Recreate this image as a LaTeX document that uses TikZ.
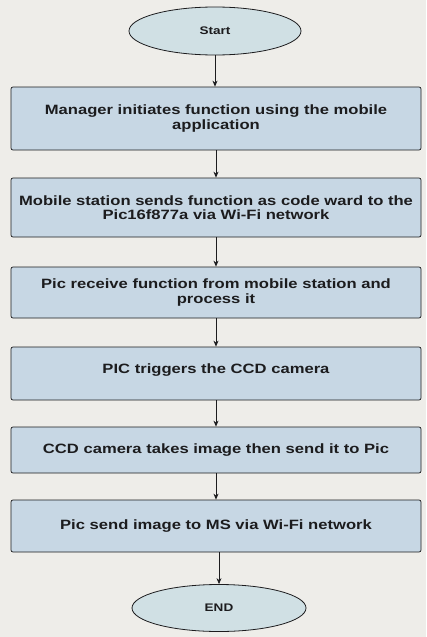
\documentclass[tikz,border=0pt]{standalone}
\usepackage{fontspec}
\setmainfont{Liberation Sans}[FakeStretch=1.23]
\usetikzlibrary{arrows.meta,shapes.geometric}

\definecolor{paper}{RGB}{238,237,233}
\definecolor{boxblue}{RGB}{199,215,228}
\definecolor{termblue}{RGB}{208,224,228}
\definecolor{ink}{RGB}{28,28,30}

\tikzset{
  stepbox/.style={draw=ink, line width=0.7pt, rounded corners=2pt,
    fill=boxblue, minimum width=410pt, align=center, text=ink,
    font=\bfseries\fontsize{13.5}{14.5}\selectfont, inner sep=2pt},
  terminal/.style={ellipse, draw=ink, line width=0.8pt, fill=termblue,
    text=ink, font=\bfseries\fontsize{11}{12}\selectfont, inner sep=0pt},
  flow/.style={draw=ink, line width=0.7pt,
    -{Stealth[length=6pt,width=5pt]}},
}

\begin{document}
\begin{tikzpicture}[x=1pt,y=-1pt]
  \fill[paper] (0,0) rectangle (426,637);
  \useasboundingbox (0,0) rectangle (426,637);

  % terminals
  \node[terminal, minimum width=172pt, minimum height=48pt] (start) at (215,31) {Start};
  \node[terminal, minimum width=174pt, minimum height=47pt] (stop) at (219,608) {END};

  % process steps
  \node[stepbox, minimum height=63pt] (b1) at (216,118.5)
    {Manager initiates function using the mobile\\application};
  \node[stepbox, minimum height=59pt] (b2) at (216,207.5)
    {Mobile station sends function as code ward to the\\Pic16f877a via Wi-Fi network};
  \node[stepbox, minimum height=51pt] (b3) at (216,292.5)
    {Pic receive function from mobile station and\\process it};
  \node[stepbox, minimum height=53pt, text depth=10pt] (b4) at (216,373.5)
    {PIC triggers the CCD camera};
  \node[stepbox, minimum height=46pt] (b5) at (216,450)
    {CCD camera takes image then send it to Pic};
  \node[stepbox, minimum height=52pt] (b6) at (216,526)
    {Pic send image to MS via Wi-Fi network};

  % connectors
  \draw[flow] (start.south) -- (start.south |- b1.north);
  \draw[flow] (b1) -- (b2);
  \draw[flow] (b2) -- (b3);
  \draw[flow] (b3) -- (b4);
  \draw[flow] (b4) -- (b5);
  \draw[flow] (b5) -- (b6);
  \draw[flow] (b6.south -| stop.north) -- (stop.north);
\end{tikzpicture}
\end{document}
